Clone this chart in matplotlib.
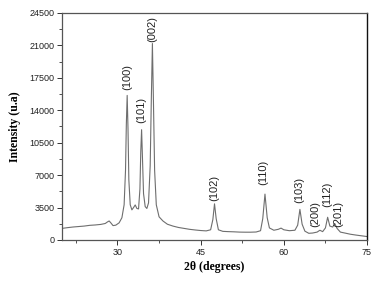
import matplotlib
matplotlib.use("Agg")
import matplotlib.pyplot as plt
from matplotlib.ticker import MultipleLocator

# XRD pattern (2theta in degrees, intensity in a.u.)
two_theta = [20, 21, 22, 23, 24, 25, 26, 27, 27.8, 28.2, 28.5, 28.8, 29.2, 29.7,
             30.3, 30.8, 31.2, 31.45, 31.6, 31.75, 31.9, 32.05, 32.3, 32.6, 32.9,
             33.2, 33.5, 33.8, 34.05, 34.2, 34.35, 34.5, 34.7, 35.0, 35.3, 35.6,
             35.9, 36.1, 36.3, 36.5, 36.7, 37.0, 37.5, 38.2, 39.0, 40, 41, 42, 43,
             44, 45, 46, 46.8, 47.2, 47.5, 47.8, 48.2, 49, 50, 51, 52, 53, 54, 55,
             55.8, 56.2, 56.6, 57.0, 57.4, 58.2, 59, 59.5, 60, 61, 62, 62.5, 62.9,
             63.3, 63.8, 64.5, 65.2, 66, 66.5, 67, 67.5, 67.9, 68.3, 68.8, 69.2,
             69.6, 70.2, 71, 72, 73, 74, 75]
intensity = [1250, 1330, 1400, 1450, 1500, 1580, 1620, 1680, 1780, 1950, 2050, 1850,
             1550, 1600, 1850, 2400, 3800, 7500, 12500, 15600, 12000, 6500, 3800,
             3250, 3500, 3780, 3400, 3350, 5500, 9500, 11900, 9000, 5000, 3600, 3400,
             4000, 8000, 15000, 21200, 14500, 7500, 3800, 2500, 2050, 1700, 1500,
             1350, 1250, 1150, 1080, 1020, 980, 1100, 2200, 3900, 2300, 1100, 930,
             900, 880, 850, 840, 840, 860, 1000, 2300, 4950, 2400, 1300, 1050, 1150,
             1280, 1100, 1000, 1050, 1600, 3300, 1700, 950, 720, 750, 850, 1050, 900,
             1300, 2450, 1500, 1400, 1750, 1250, 850, 750, 620, 530, 450, 370]

# hkl labels and where they sit
hkl = ["(100)", "(101)", "(002)", "(102)", "(110)", "(103)", "(200)", "(112)", "(201)"]
hkl_x = [31.7, 34.3, 36.25, 47.5, 56.3, 62.7, 65.75, 67.8, 69.8]
hkl_y = [16200, 12600, 21400, 4200, 5900, 3950, 1400, 3600, 1350]

fig = plt.figure(figsize=(3.77, 2.81), dpi=100)
ax = fig.add_axes([0.1645, 0.146, 0.809, 0.808])

ax.plot(two_theta, intensity, color="#6e6e6e", lw=0.8)

for lab, x, y in zip(hkl, hkl_x, hkl_y):
  ax.text(x, y, lab, rotation=90, ha="center", va="bottom",
          fontsize=8, family="Liberation Sans", color="#222222")

ax.set_xlim(20, 75)
ax.set_ylim(0, 24500)
ax.xaxis.set_major_locator(MultipleLocator(15))
ax.xaxis.set_minor_locator(MultipleLocator(7.5))
ax.yaxis.set_major_locator(MultipleLocator(3500))
ax.yaxis.set_minor_locator(MultipleLocator(1750))
ax.set_xticks([30, 45, 60, 75])

ax.tick_params(which="both", direction="out", labelsize=6.5, colors="#333333",
               labelcolor="#222222", pad=2)
ax.tick_params(which="major", length=3.5, width=0.7)
ax.tick_params(which="minor", length=2, width=0.6)
for lab in ax.get_xticklabels() + ax.get_yticklabels():
  lab.set_family("Liberation Sans")

for s in ["left", "bottom", "top"]:
  ax.spines[s].set_color("#555555")
  ax.spines[s].set_linewidth(0.9)
ax.spines["right"].set_color("#111111")
ax.spines["right"].set_linewidth(1.0)

ax.set_xlabel("2θ (degrees)", fontsize=8.5, family="Liberation Serif",
              fontweight="bold", labelpad=3)
ax.set_ylabel("Intensity (u.a)", fontsize=8.5, family="Liberation Serif",
              fontweight="bold", labelpad=6)

plt.savefig("out.png", dpi=100)
